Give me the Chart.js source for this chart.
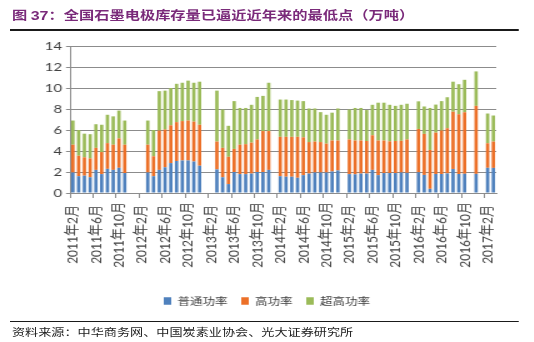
<!DOCTYPE html>
<html>
<head>
<meta charset="utf-8">
<script src="https://cdn.jsdelivr.net/npm/chart.js@4.4.1/dist/chart.umd.min.js"></script>
<style>
  html, body { margin: 0; padding: 0; background: #fff; }
  body { width: 534px; height: 342px; overflow: hidden; position: relative; }
  /* the whole figure is laid out narrow and widened horizontally */
  #page { position: absolute; left: 0; top: 0; width: 427.2px; height: 342px;
          transform: scaleX(1.25); transform-origin: 0 0; }
  #title { position: absolute; left: 9.6px; top: 6px; white-space: nowrap;
           font: bold 12.2px/18px "Noto Sans CJK SC", sans-serif; color: #7a2a7a; }
  #title .num { font-family: "Liberation Sans", Arial, sans-serif; font-size: 12.8px; }
  .rule { position: absolute; left: 8px; width: 407px; background: #1a1a1a; }
  #source { position: absolute; left: 9.6px; top: 325px; white-space: nowrap;
            font: 10.5px/14px "Noto Sans CJK SC", sans-serif; color: #222; }
  canvas { position: absolute; left: 0; top: 0; }
</style>
</head>
<body>
<div id="page">
  <div id="title">图 <span class="num">37</span>：全国石墨电极库存量已逼近近年来的最低点（万吨）</div>
  <div class="rule" style="top:29px;height:1.6px"></div>
  <canvas id="c" width="427" height="342" style="width:427px;height:342px"></canvas>
  <div class="rule" style="top:321px;height:1.3px"></div>
  <div id="source">资料来源：中华商务网、中国炭素业协会、光大证券研究所</div>
</div>
<script>
// Monthly categories, 2011年2月 … 2017年3月
const months = [];
for (let y = 2011, m = 2; months.length < 74; ) {
  months.push(y + '年' + m + '月');
  m++;
  if (m > 12) { m = 1; y++; }
}

// Inventory by grade (万吨); null = month without data
const normal = [
  1.95, 1.6, 1.65, 1.5, 2.2, 1.8, 2.3, 2.2, 2.4, 1.9,
  null, null, null,
  1.95, 1.6, 2.2, 2.45, 2.85, 3.05, 3.1, 3.1, 3.0, 2.6,
  null, null,
  2.25, 1.5, 0.85, 2.0, 1.8, 1.8, 1.85, 2.0, 2.0, 2.2,
  null,
  1.6, 1.55, 1.55, 1.45, 1.7, 1.85, 1.95, 1.95, 1.95, 2.05, 2.15,
  null,
  1.8, 1.78, 1.85, 1.85, 2.2, 1.7, 1.9, 1.9, 1.9, 1.95, 1.92,
  null,
  1.97, 1.72, 0.4, 1.81, 1.81, 1.87, 2.29, 1.81, 1.83,
  null, 1.82, null, 2.4, 2.39
];
const high = [
  2.65, 1.95, 1.75, 1.8, 2.1, 2.1, 2.45, 2.4, 2.8, 2.7,
  null, null, null,
  2.65, 1.9, 3.75, 3.6, 3.6, 3.7, 3.75, 3.8, 3.8, 3.9,
  null, null,
  2.65, 2.8, 2.6, 2.2, 2.8, 2.85, 2.95, 3.1, 3.9, 3.7,
  null,
  3.75, 3.8, 3.8, 3.9, 3.6, 3.0, 2.95, 2.9, 2.75, 2.95, 2.85,
  null,
  3.3, 3.22, 3.15, 3.1, 3.3, 3.3, 3.1, 3.02, 3.05, 3.02, 3.18,
  null,
  4.13, 3.91, 3.7, 3.94, 4.14, 4.3, 5.45, 5.69, 5.86,
  null, 6.48, null, 2.34, 2.51
];
const ultra = [
  2.3, 2.45, 2.25, 2.3, 2.25, 2.6, 2.7, 2.7, 2.65, 2.3,
  null, null, null,
  2.3, 2.5, 3.75, 3.7, 3.55, 3.65, 3.65, 3.8, 3.7, 4.1,
  null, null,
  4.85, 3.65, 2.95, 4.55, 3.5, 3.45, 3.6, 4.05, 3.35, 4.6,
  null,
  3.55, 3.55, 3.5, 3.45, 3.45, 3.2, 3.15, 2.85, 2.75, 2.65, 3.05,
  null,
  2.85, 3.1, 3.1, 2.95, 2.9, 3.6, 3.6, 3.48, 3.35, 3.43, 3.4,
  null,
  2.63, 2.61, 4.0, 2.67, 2.8, 2.95, 2.86, 2.86, 3.09,
  null, 3.28, null, 2.83, 2.48
];

const yTicks = { min: 0, max: 14, step: 2 };
const labelEvery = 4;

const axisGray = '#8c8c8c';
const textGray = '#404040';
const latinFont = '"Lato", "Noto Sans CJK SC", sans-serif';

new Chart(document.getElementById('c'), {
  type: 'bar',
  data: {
    labels: months,
    datasets: [
      { label: '普通功率', data: normal, backgroundColor: '#4F81BD' },
      { label: '高功率',   data: high,   backgroundColor: '#EC7028' },
      { label: '超高功率', data: ultra,  backgroundColor: '#9BBB59' }
    ]
  },
  options: {
    responsive: false,
    animation: false,
    devicePixelRatio: 1,
    layout: { padding: { left: 30, right: 30, top: 46, bottom: 26 } },
    datasets: { bar: { barPercentage: 0.58, categoryPercentage: 1, borderWidth: 0 } },
    plugins: {
      legend: {
        position: 'bottom',
        labels: {
          boxWidth: 6, boxHeight: 7.5, padding: 11, color: textGray,
          font: { size: 10, family: '"Noto Sans CJK SC", sans-serif' }
        }
      },
      tooltip: { enabled: false }
    },
    scales: {
      x: {
        stacked: true,
        offset: true,
        grid: {
          offset: true, drawOnChartArea: false, drawTicks: true, tickLength: 5,
          color: ctx => (ctx.index % labelEvery === 0 ? axisGray : 'rgba(0,0,0,0)')
        },
        border: { display: true, color: axisGray },
        ticks: {
          autoSkip: false, minRotation: 90, maxRotation: 90, padding: 4,
          color: textGray, font: { size: 12, family: latinFont },
          callback: function (value, index) {
            if (index % labelEvery !== 0) return '';
            const s = this.getLabelForValue(value);
            // single-digit months get a little extra room so labels sit centred
            return s.length === 7 ? s + ' ' : s;
          }
        },
        afterFit: s => { s.height = 92; }
      },
      y: {
        stacked: true,
        min: yTicks.min,
        max: yTicks.max,
        ticks: { stepSize: yTicks.step, padding: 3.2, color: textGray, font: { size: 12, family: latinFont } },
        grid: { color: axisGray, tickLength: 3.2 },
        border: { display: true, color: axisGray },
        afterFit: s => { s.width = 26; }
      }
    }
  }
});
</script>
</body>
</html>
